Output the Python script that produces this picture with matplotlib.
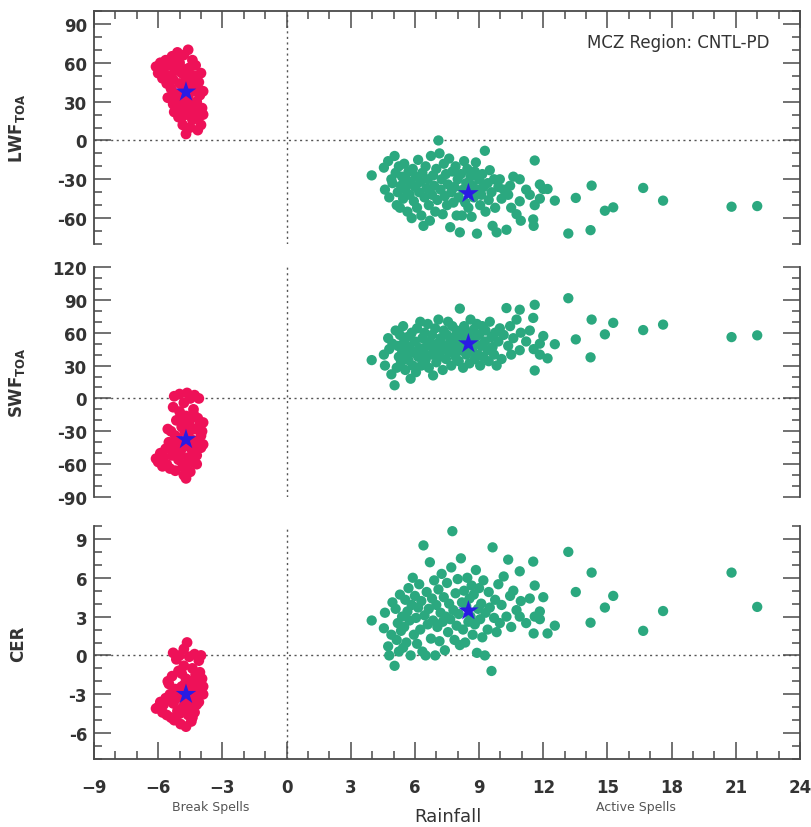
import numpy as np
import matplotlib
matplotlib.use('Agg')
import matplotlib.pyplot as plt
from matplotlib.ticker import MultipleLocator

# Break spells (rainfall anomaly) and the matching LWF / SWF / CER anomalies
rain_break = [-6.1, -6.0, -5.9, -5.8, -5.75, -5.65, -5.6, -5.55, -5.5, -5.45,
              -5.4, -5.35, -5.3, -5.3, -5.25, -5.2, -5.15, -5.1, -5.05, -5.0,
              -5.0, -4.95, -4.9, -4.85, -4.8, -4.8, -4.75, -4.7, -4.7, -4.65,
              -4.6, -4.6, -4.55, -4.5, -4.5, -4.45, -4.4, -4.4, -4.35, -4.3,
              -4.3, -4.25, -4.2, -4.15, -4.1, -4.1, -4.05, -4.0, -4.0, -3.95,
              -3.9, -3.9, -5.2, -5.0, -4.9, -4.7, -4.55, -4.4, -4.2, -5.1,
              -4.75, -4.35]
lwf_break = [57, 52, 60, 48, 55, 62, 44, 33, 50, 58,
             40, 65, 28, 47, 22, 54, 36, 68, 18, 44,
             60, 26, 52, 12, 40, 66, 30, 5, 47, 20,
             70, 34, 56, 10, 43, 26, 62, 16, 50, 38,
             22, 58, 30, 8, 45, 18, 35, 12, 52, 25,
             38, 20, 30, 36, 18, 55, 48, 28, 40, 62,
             24, 44]
swf_break = [-55, -58, -50, -62, -54, -46, -60, -28, -40, -64,
             -30, -52, -8, -44, 2, -66, -20, -36, -56, -12,
             4, -48, -26, -62, -70, -4, -42, -73, -16, 5,
             -54, -32, -22, -67, 0, -46, -38, -58, -10, 3,
             -28, -50, -60, -18, 0, -40, -24, -45, -34, -30,
             -42, -22, -34, -50, -18, -60, -44, -28, -52, -44,
             -30, -14]
cer_break = [-4.1, -4.0, -3.6, -4.4, -3.8, -3.3, -4.6, -2.0, -2.2, -3.0,
             -4.8, -1.6, 0.2, -3.7, -5.0, -2.6, -0.3, -4.3, -1.2, -3.2,
             0.0, -5.3, -2.4, -4.0, -0.8, 0.5, -3.5, -5.5, -1.8, 1.0,
             -2.9, -4.6, -0.1, -3.3, -2.0, -5.1, -1.0, -3.9, -2.6, 0.1,
             -4.4, -1.5, -3.1, -2.2, -0.4, -3.6, -1.3, -2.9, 0.0, -1.8,
             -3.0, -2.4, -3.4, -4.5, -1.4, -4.0, -2.5, -4.8, -3.8, -2.8,
             -2.2, -3.5]

# Active spells
rain_active = [3.98, 4.55, 4.6, 4.75, 4.8, 4.9, 4.95,
               5.05, 5.1, 5.15, 5.2, 5.25, 5.3, 5.35, 5.4, 5.45, 5.5,
               5.55, 5.6, 5.65, 5.7, 5.75, 5.8, 5.85, 5.9, 5.95,
               6.0, 6.05, 6.1, 6.15, 6.2, 6.25, 6.3, 6.35, 6.4, 6.45,
               6.5, 6.55, 6.6, 6.65, 6.7, 6.75, 6.8, 6.85, 6.9, 6.95,
               7.0, 7.05, 7.1, 7.15, 7.2, 7.25, 7.3, 7.35, 7.4, 7.45,
               7.5, 7.55, 7.6, 7.65, 7.7, 7.75, 7.8, 7.85, 7.9, 7.95,
               8.0, 8.05, 8.1, 8.15, 8.2, 8.25, 8.3, 8.35, 8.4, 8.45,
               8.5, 8.55, 8.6, 8.65, 8.7, 8.75, 8.8, 8.85, 8.9, 8.95,
               9.0, 9.05, 9.1, 9.15, 9.2, 9.27, 9.3, 9.4, 9.45, 9.5,
               9.58, 9.63, 9.7, 9.75, 9.82, 9.9, 9.97,
               10.05, 10.15, 10.28, 10.36, 10.45, 10.5, 10.6, 10.75, 10.9, 10.9, 10.95,
               11.2, 11.37, 11.53, 11.55, 11.6, 11.6, 11.84, 11.84, 12.0, 12.2,
               12.54, 13.17, 13.52, 14.21, 14.26, 14.88, 15.27, 16.67, 17.6, 20.8, 22.0]
lwf_active = [-27, -21, -38, -16, -44, -30, -33,
              -12, -25, -50, -40, -20, -52, -35, -28, -45, -18,
              -38, -30, -55, -24, -42, -33, -60, -22, -47,
              -36, -28, -52, -15, -40, -32, -58, -25, -66, -44,
              -20, -37, -30, -50, -62, -12, -42, -27, -35, -55,
              -22, -46, 0, -10, -38, -30, -57, -18, -43, -26,
              -50, -34, -14, -67, -40, -24, -48, -36, -20, -58,
              -30, -44, -71, -26, -58, -38, -16, -48, -33, -22,
              -52, -40, -28, -59, -35, -44, -24, -17, -72, -38,
              -30, -50, -42, -26, -36, -8, -55, -33, -46, -23,
              -40, -66, -30, -52, -71, -36, -30,
              -45, -38, -69, -42, -35, -52, -28, -57, -30, -47, -62,
              -38, -42, -61, -66, -15.5, -50, -34, -45, -37.5, -37.5,
              -46.5, -71.9, -44.4, -69.3, -34.9, -54.3, -51.7, -36.7, -46.5, -51.2, -50.7]
swf_active = [35, 40, 30, 55, 45, 22, 50,
              12, 62, 28, 48, 38, 58, 33, 44, 66, 52,
              26, 40, 56, 35, 47, 18, 60, 30, 42,
              52, 24, 64, 38, 46, 70, 30, 55, 42, 60,
              35, 48, 68, 28, 52, 40, 58, 21, 45, 64,
              33, 50, 72, 38, 55, 44, 26, 62, 48, 36,
              58, 70, 42, 52, 30, 66, 46, 56, 38, 62,
              50, 34, 82, 44, 58, 28, 66, 52, 40, 60,
              46, 32, 72, 55, 43, 63, 36, 50, 68, 40,
              58, 30, 48, 66, 38, 52, 62, 44, 34, 70,
              56, 47, 40, 60, 30, 52, 64,
              36, 58, 82.5, 48, 66, 40, 55, 72, 81, 44, 60,
              52, 62, 73.5, 45, 85.5, 25.5, 50, 40, 57, 36.6,
              49.5, 91.5, 53.9, 37.5, 72, 58.5, 69, 62.4, 67.4, 56, 57.6]
cer_active = [2.7, 2.1, 3.3, 0.7, 0.0, 1.6, 4.1,
              -0.8, 3.6, 1.2, 2.5, 0.3, 4.7, 1.9, 3.0, 0.6, 2.2,
              4.3, 1.0, 3.4, 5.2, 2.7, 0.0, 3.9, 6.0, 1.6,
              4.6, 2.9, 0.9, 3.7, 5.5, 2.0, 4.2, 0.3, 8.5, 3.1,
              0.0, 4.9, 2.4, 3.6, 7.2, 1.3, 4.4, 2.7, 5.8, 0.0,
              3.9, 2.2, 5.1, 1.1, 3.3, 6.3, 2.6, 4.5, 0.4, 3.0,
              5.6, 1.8, 4.0, 2.8, 6.8, 9.6, 3.5, 1.2, 4.8, 2.3,
              5.9, 3.2, 0.8, 7.5, 4.1, 2.0, 5.0, 1.0, 3.8, 6.0,
              2.6, 4.4, 3.0, 5.4, 1.6, 4.7, 2.4, 6.6, 0.2, 3.6,
              5.2, 2.8, 4.0, 1.4, 5.8, 0.0, 3.3, 2.0, 4.9, 3.7,
              -1.2, 8.35, 2.9, 4.3, 1.8, 5.5, 2.5,
              3.9, 6.1, 3.0, 7.4, 4.6, 2.2, 5.0, 3.5, 6.5, 3.0, 4.2,
              2.5, 4.4, 7.25, 1.7, 5.4, 3.0, 3.4, 2.8, 4.5, 1.7,
              2.3, 8.0, 4.9, 2.53, 6.4, 3.7, 4.6, 1.9, 3.43, 6.4, 3.75]

# composite means (stars)
mean_rain = [-4.7, 8.5]
mean_lwf = [37.5, -41.0]
mean_swf = [-37.5, 50.0]
mean_cer = [-3.0, 3.45]

ylabels = [r'LWF$_{\mathbf{TOA}}$', r'SWF$_{\mathbf{TOA}}$', 'CER']
ylims = [(-80, 100), (-90, 120), (-8, 10)]
ymajor = [30, 30, 3]
yminor = [10, 10, 1]

red = '#EE1158'
green = '#2BA87F'
blue = '#2A1BE3'
dark = '#333333'
spine_c = '#4a4a4a'

fig = plt.figure(figsize=(8.12, 8.28), dpi=100)
W = 812.0
H = 828.0
# pixel extents of each panel (top, bottom)
boxes = [(12, 245), (268, 498), (527, 760)]
left = 94 / W
width = (800 - 94) / W

ydata = [(lwf_break, lwf_active), (swf_break, swf_active), (cer_break, cer_active)]
ymeans = [mean_lwf, mean_swf, mean_cer]

axes = []
for i in range(3):
    top, bot = boxes[i]
    ax = fig.add_axes([left, 1 - bot / H, width, (bot - top) / H])
    axes.append(ax)
    yb, ya = ydata[i]
    ax.axhline(0, color='#555555', lw=1.0, ls=(0, (1.5, 2.5)), zorder=1)
    ax.axvline(0, color='#555555', lw=1.0, ls=(0, (1.5, 2.5)), zorder=1)
    ax.scatter(rain_active, ya, s=55, color=green, edgecolors='none', zorder=2)
    ax.scatter(rain_break, yb, s=60, color=red, edgecolors='none', zorder=2)
    ax.scatter(mean_rain, ymeans[i], s=240, marker='*', color=blue, edgecolors='none', zorder=3)

    ax.set_xlim(-9, 24)
    ax.set_ylim(*ylims[i])
    ax.xaxis.set_major_locator(MultipleLocator(3))
    ax.xaxis.set_minor_locator(MultipleLocator(1))
    ax.yaxis.set_minor_locator(MultipleLocator(yminor[i]))
    lo, hi = ylims[i]
    ticks = [t for t in range(-120, 121, ymajor[i]) if lo <= t <= hi]
    ax.set_yticks(ticks)
    ax.set_yticklabels([str(t) for t in ticks])

    ax.tick_params(which='both', direction='in', colors=spine_c, width=1.1,
                   left=True, right=True, labelleft=True, labelright=False,
                   top=(i == 0), bottom=(i == 2), labeltop=False, labelbottom=(i == 2))
    ax.tick_params(which='major', length=12)
    ax.tick_params(which='minor', length=6)
    ax.tick_params(axis='y', pad=5, labelsize=12, labelcolor=dark)
    ax.tick_params(axis='x', pad=14, labelsize=12, labelcolor=dark)
    for lab in ax.get_xticklabels() + ax.get_yticklabels():
        lab.set_fontweight('bold')

    for s in ax.spines.values():
        s.set_color(spine_c)
        s.set_linewidth(1.3)
    if i > 0:
        ax.spines['top'].set_visible(False)
    if i < 2:
        ax.spines['bottom'].set_visible(False)

    ax.set_ylabel(ylabels[i], fontsize=12, fontweight='bold', color=dark)
    ax.yaxis.set_label_coords(-0.095, 0.5)

axes[0].text(0.9575, 0.867, 'MCZ Region: CNTL-PD', transform=axes[0].transAxes,
             ha='right', va='center', fontsize=12, color=dark)

fig.text(448 / W, 1 - 817 / H, 'Rainfall', ha='center', va='center', fontsize=13, color=dark)
fig.text(211 / W, 1 - 808 / H, 'Break Spells', ha='center', va='center', fontsize=9, color='#555555')
fig.text(636 / W, 1 - 808 / H, 'Active Spells', ha='center', va='center', fontsize=9, color='#555555')

fig.savefig('out.png', dpi=100)
